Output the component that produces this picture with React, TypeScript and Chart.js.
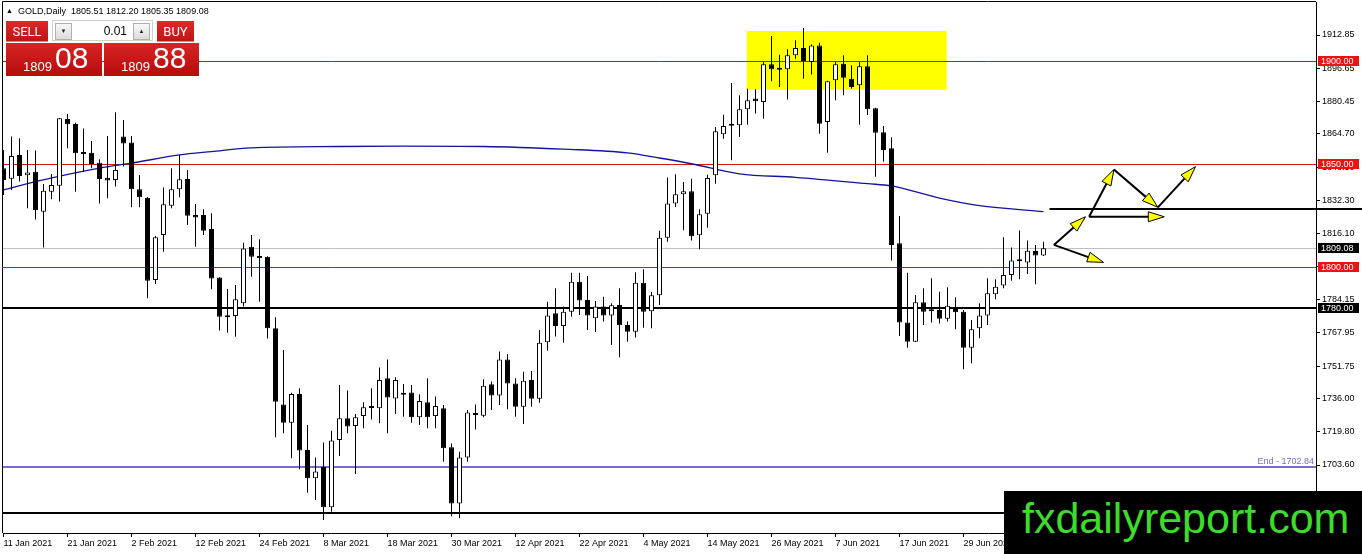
import { useEffect, useRef } from "react"
import { Chart, registerables } from "chart.js"

Chart.register(...registerables)

// daily candles, one per trading day from 11 Jan 2021
const opens = [
  1848.0, 1842.9, 1854.5, 1844.6, 1846.3, 1826.9, 1836.6, 1839.5, 1872.0, 1869.5,
  1855.6, 1855.6, 1850.7, 1843.4, 1842.3, 1863.4, 1860.5, 1837.8, 1833.7, 1793.6,
  1815.5, 1829.8, 1837.8, 1842.8, 1825.3, 1825.3, 1818.4, 1794.8, 1776.1, 1776.1,
  1782.3, 1809.8, 1805.3, 1805.0, 1770.1, 1733.1, 1724.2, 1738.1, 1710.9, 1697.1,
  1702.8, 1683.0, 1715.8, 1726.3, 1722.6, 1727.4, 1731.3, 1731.2, 1745.8, 1736.0,
  1738.5, 1738.9, 1726.8, 1734.1, 1727.4, 1731.2, 1712.2, 1684.9, 1707.3, 1727.9,
  1727.6, 1742.9, 1737.4, 1755.0, 1743.3, 1732.0, 1745.0, 1735.9, 1763.3, 1777.4,
  1771.3, 1778.2, 1792.8, 1783.9, 1775.0, 1780.7, 1776.3, 1781.5, 1771.7, 1768.5,
  1792.3, 1778.4, 1786.2, 1814.2, 1830.8, 1835.3, 1836.8, 1815.4, 1825.9, 1844.6,
  1864.5, 1868.7, 1868.9, 1876.7, 1881.9, 1880.3, 1898.6, 1896.0, 1896.2, 1903.0,
  1906.5, 1899.7, 1907.8, 1870.5, 1890.8, 1898.9, 1891.6, 1888.4, 1897.6, 1877.2,
  1865.5, 1857.7, 1811.5, 1773.0, 1763.6, 1782.8, 1779.0, 1779.0, 1774.8, 1780.3,
  1778.2, 1760.7, 1770.1, 1776.3, 1786.7, 1790.9, 1796.1, 1803.1, 1802.2, 1807.7,
  1805.51,
]
const highs = [
  1856.9, 1863.4, 1862.6, 1856.9, 1856.6, 1840.4, 1845.2, 1872.5, 1874.4, 1870.2,
  1867.4, 1861.3, 1852.4, 1863.7, 1875.2, 1871.5, 1863.7, 1844.7, 1834.0, 1815.0,
  1838.7, 1848.0, 1854.5, 1847.2, 1830.6, 1828.0, 1826.1, 1795.0, 1789.3, 1791.2,
  1811.8, 1815.5, 1813.4, 1805.2, 1775.5, 1759.6, 1738.8, 1740.9, 1723.1, 1707.3,
  1714.5, 1720.3, 1742.5, 1739.8, 1728.4, 1734.1, 1740.9, 1751.1, 1755.0, 1746.3,
  1743.0, 1742.5, 1738.0, 1745.8, 1736.9, 1732.8, 1714.1, 1710.1, 1730.4, 1733.1,
  1745.3, 1744.2, 1758.8, 1757.6, 1745.8, 1749.0, 1749.4, 1769.3, 1783.1, 1789.6,
  1780.7, 1797.2, 1797.2, 1795.6, 1783.4, 1785.5, 1782.3, 1789.6, 1773.4, 1797.4,
  1798.8, 1787.8, 1817.6, 1843.5, 1845.1, 1841.3, 1842.9, 1828.0, 1844.9, 1868.1,
  1874.1, 1889.5, 1883.5, 1886.7, 1886.4, 1899.7, 1912.4, 1903.3, 1905.9, 1910.3,
  1916.3, 1908.2, 1909.1, 1890.6, 1899.7, 1903.0, 1898.1, 1899.7, 1903.0, 1877.5,
  1868.6, 1863.1, 1824.8, 1797.2, 1786.3, 1789.6, 1794.5, 1787.9, 1790.1, 1785.2,
  1779.0, 1774.2, 1782.3, 1794.5, 1794.0, 1814.4, 1809.5, 1817.7, 1812.8, 1810.7,
  1812.2,
]
const lows = [
  1835.0, 1837.4, 1841.5, 1828.5, 1823.1, 1809.5, 1832.9, 1831.8, 1857.7, 1836.6,
  1846.3, 1848.0, 1830.9, 1833.4, 1839.1, 1848.8, 1829.0, 1829.0, 1784.7, 1791.7,
  1807.4, 1828.5, 1833.9, 1820.4, 1809.8, 1815.5, 1789.1, 1769.0, 1768.0, 1766.0,
  1780.7, 1795.2, 1783.1, 1765.2, 1717.1, 1719.0, 1706.9, 1701.5, 1690.1, 1686.6,
  1676.8, 1680.9, 1708.0, 1719.0, 1699.2, 1721.5, 1725.8, 1723.9, 1719.0, 1728.4,
  1727.1, 1724.2, 1723.1, 1721.5, 1721.5, 1705.2, 1678.5, 1677.7, 1705.2, 1720.9,
  1726.8, 1730.4, 1732.8, 1730.7, 1727.1, 1723.6, 1732.0, 1733.9, 1759.2, 1766.1,
  1763.1, 1775.8, 1776.6, 1769.3, 1768.3, 1773.4, 1762.0, 1756.0, 1763.6, 1765.7,
  1770.4, 1770.1, 1781.5, 1812.3, 1829.2, 1817.8, 1812.9, 1808.6, 1819.1, 1840.5,
  1862.4, 1851.9, 1863.2, 1869.2, 1874.6, 1872.1, 1890.3, 1887.6, 1881.5, 1901.3,
  1891.6, 1893.6, 1864.8, 1855.6, 1881.1, 1883.5, 1886.7, 1869.2, 1873.9, 1843.9,
  1851.2, 1803.1, 1766.4, 1760.7, 1763.5, 1771.7, 1772.9, 1772.5, 1773.4, 1769.6,
  1750.2, 1753.1, 1765.3, 1771.7, 1784.2, 1789.6, 1793.3, 1794.0, 1796.6, 1791.5,
  1805.35,
]
const closes = [
  1842.3, 1854.0, 1844.2, 1845.9, 1827.7, 1837.1, 1839.9, 1872.3, 1869.4, 1855.3,
  1855.0, 1850.1, 1842.8, 1842.0, 1847.2, 1860.1, 1837.8, 1833.9, 1793.3, 1814.4,
  1830.5, 1837.8, 1842.6, 1824.9, 1824.1, 1817.6, 1794.4, 1775.8, 1775.5, 1784.2,
  1809.0, 1805.0, 1804.2, 1770.1, 1734.4, 1724.2, 1738.1, 1710.6, 1697.1, 1700.4,
  1683.0, 1715.5, 1726.3, 1722.3, 1726.8, 1731.7, 1731.7, 1745.0, 1736.5, 1745.0,
  1737.8, 1726.8, 1734.7, 1726.8, 1732.3, 1711.7, 1684.9, 1707.3, 1729.2, 1728.1,
  1742.2, 1737.4, 1755.0, 1743.3, 1732.0, 1744.6, 1735.9, 1763.1, 1776.4, 1771.3,
  1778.2, 1792.8, 1783.6, 1776.4, 1780.7, 1776.3, 1781.3, 1771.6, 1768.5, 1792.3,
  1778.2, 1786.2, 1814.2, 1830.9, 1835.3, 1836.8, 1814.9, 1825.6, 1843.3, 1866.0,
  1868.6, 1869.1, 1876.7, 1881.1, 1880.6, 1898.6, 1896.2, 1896.3, 1903.0, 1906.5,
  1900.2, 1907.8, 1869.7, 1890.3, 1898.6, 1892.1, 1887.6, 1897.6, 1876.7, 1865.3,
  1856.9, 1810.7, 1772.9, 1763.6, 1782.8, 1778.2, 1778.4, 1774.8, 1781.1, 1777.9,
  1760.7, 1769.6, 1776.3, 1787.2, 1790.4, 1796.1, 1803.1, 1802.7, 1807.9, 1805.6,
  1809.08,
]

const tickIndex = [0, 8, 16, 24, 32, 40, 48, 56, 64, 72, 80, 88, 96, 104, 112, 120, 128]
const tickLabels = [
  "11 Jan 2021", "21 Jan 2021", "2 Feb 2021", "12 Feb 2021", "24 Feb 2021", "8 Mar 2021",
  "18 Mar 2021", "30 Mar 2021", "12 Apr 2021", "22 Apr 2021", "4 May 2021", "14 May 2021",
  "26 May 2021", "7 Jun 2021", "17 Jun 2021", "29 Jun 2021", "9 Jul 2021",
]
const priceTicks = [
  1912.85, 1896.65, 1880.45, 1864.7, 1848.5, 1832.3, 1816.1, 1800.0, 1784.15,
  1767.95, 1751.75, 1736.0, 1719.8, 1703.6,
]

// moving average read at a few bars
const maIndex = [0, 4, 12, 16, 22, 26, 31, 42, 50, 60, 70, 78, 82, 86, 92, 99, 108, 111, 117, 122, 130]
const maValues = [
  1837.4, 1841.5, 1848.1, 1850.5, 1854.5, 1856.1, 1857.9, 1858.6, 1858.8, 1858.6, 1857.3,
  1855.5, 1853.0, 1850.2, 1845.3, 1843.6, 1840.5, 1839.4, 1833.5, 1829.8, 1826.9,
]

const redLevels = [1900, 1850, 1800]
const blackLevels = [1780, 1680]
const lastPrice = 1809.08
const askPrice = 1809.88
const endLevel = 1702.84
const targetLevel = 1828
const targetStart = 130.75

const zoneIndex = [92.9, 117.9]
const zonePrice = [1886.2, 1914.8]

const arrowFrom = [
  [131.3, 1810.7], [131.3, 1810.7], [135.7, 1824.4], [138.8, 1847.4], [135.7, 1824.4], [144.3, 1829.0],
]
const arrowTo = [
  [135.25, 1824.4], [137.5, 1802.2], [138.8, 1847.4], [144.3, 1829.0], [145.1, 1824.4], [149.0, 1848.8],
]

const FONT = "'Liberation Sans', Arial, sans-serif"
const RED_LINE = "#d01818"
const RED_BOX = "#ee1111"
const PURPLE = "#7b6cd0"

const overlayPlugin = {
  id: "overlays",
  beforeDatasetsDraw(chart: any) {
    const { ctx, chartArea: a, scales } = chart
    const x = scales.x, y = scales.y
    ctx.save()
    ctx.beginPath()
    ctx.rect(a.left, a.top, a.right - a.left, a.bottom - a.top)
    ctx.clip()

    // yellow zone
    const zx0 = x.getPixelForValue(zoneIndex[0])
    const zx1 = x.getPixelForValue(zoneIndex[1])
    const zy0 = y.getPixelForValue(zonePrice[1])
    const zy1 = y.getPixelForValue(zonePrice[0])
    ctx.fillStyle = "#ffff00"
    ctx.fillRect(zx0, zy0, zx1 - zx0, zy1 - zy0)

    const hline = (v: number, color: string, w: number) => {
      const p = y.getPixelForValue(v)
      const py = w % 2 === 1 ? Math.round(p) + 0.5 : Math.round(p)
      ctx.strokeStyle = color
      ctx.lineWidth = w
      ctx.beginPath()
      ctx.moveTo(a.left, py)
      ctx.lineTo(a.right, py)
      ctx.stroke()
    }
    hline(lastPrice, "#c0c0c0", 1)
    redLevels.forEach((v) => hline(v, RED_LINE, 1))
    hline(endLevel, PURPLE, 2)
    blackLevels.forEach((v) => hline(v, "#000", 2))
    ctx.restore()
  },
  afterDatasetsDraw(chart: any) {
    const { ctx, scales } = chart
    const x = scales.x, y = scales.y
    ctx.save()
    arrowFrom.forEach((f, i) => {
      const t = arrowTo[i]
      const x0 = x.getPixelForValue(f[0]), y0 = y.getPixelForValue(f[1])
      const x1 = x.getPixelForValue(t[0]), y1 = y.getPixelForValue(t[1])
      const ang = Math.atan2(y1 - y0, x1 - x0)
      const len = 16, half = 5
      const c = Math.cos(ang), s = Math.sin(ang)
      const bx = x1 - len * c, by = y1 - len * s
      ctx.strokeStyle = "#000"
      ctx.lineWidth = 2
      ctx.beginPath()
      ctx.moveTo(x0, y0)
      ctx.lineTo(bx, by)
      ctx.stroke()
      ctx.beginPath()
      ctx.moveTo(x1, y1)
      ctx.lineTo(bx + half * s, by - half * c)
      ctx.lineTo(bx - half * s, by + half * c)
      ctx.closePath()
      ctx.fillStyle = "#ffff00"
      ctx.fill()
      ctx.lineWidth = 1
      ctx.stroke()
    })
    ctx.restore()
  },
  afterDraw(chart: any) {
    const { ctx, chartArea: a, scales } = chart
    const x = scales.x, y = scales.y
    ctx.save()
    // frame top / left
    ctx.strokeStyle = "#000"
    ctx.lineWidth = 1
    ctx.beginPath()
    ctx.moveTo(a.left - 0.5, a.bottom)
    ctx.lineTo(a.left - 0.5, a.top - 0.5)
    ctx.lineTo(a.right, a.top - 0.5)
    ctx.stroke()

    // partial target line running past the axis
    const ty = Math.round(y.getPixelForValue(targetLevel))
    ctx.lineWidth = 2
    ctx.beginPath()
    ctx.moveTo(x.getPixelForValue(targetStart), ty)
    ctx.lineTo(chart.width, ty)
    ctx.stroke()

    // "End" label of the purple line
    ctx.font = `9px ${FONT}`
    ctx.fillStyle = PURPLE
    ctx.textAlign = "right"
    ctx.textBaseline = "alphabetic"
    ctx.fillText(`End - ${endLevel.toFixed(2)}`, a.right - 2, y.getPixelForValue(endLevel) - 3)

    // price boxes on the axis
    const box = (v: number, bg: string) => {
      const py = Math.round(y.getPixelForValue(v))
      ctx.fillStyle = bg
      ctx.fillRect(a.right + 2, py - 5, 41, 10)
      ctx.fillStyle = "#fff"
      ctx.textAlign = "left"
      ctx.textBaseline = "middle"
      ctx.fillText(v.toFixed(2), a.right + 5, py + 0.5)
    }
    redLevels.forEach((v) => box(v, RED_BOX))
    box(lastPrice, "#000")
    box(blackLevels[0], "#000")
    ctx.restore()
  },
}

const splitPrice = (v: number) => {
  const [a, b] = v.toFixed(2).split(".")
  return [a, b]
}

function PriceBox({ left, value }: { left: number; value: number }) {
  const [big, small] = splitPrice(value)
  return (
    <div
      style={{
        position: "absolute", left, top: 43, width: left === 6 ? 96 : 95, height: 33,
        background: "linear-gradient(#d82424, #b50c0c)", color: "#fff", fontFamily: FONT,
      }}
    >
      <span style={{ position: "absolute", left: 17, top: 17, fontSize: 13, lineHeight: "13px" }}>{big}</span>
      <span style={{ position: "absolute", left: 49, top: 0, fontSize: 30, lineHeight: "30px" }}>{small}</span>
    </div>
  )
}

function TradePanel() {
  const btn: React.CSSProperties = {
    position: "absolute", top: 2, width: 17, height: 17, boxSizing: "border-box",
    border: "1px solid #b0b0b0", background: "linear-gradient(#f8f8f8, #dcdcdc)",
    fontSize: 6, lineHeight: "15px", textAlign: "center", color: "#222",
  }
  const head: React.CSSProperties = {
    position: "absolute", top: 21, height: 21, background: "linear-gradient(#dc2a2a, #c01414)",
    color: "#fff", fontFamily: "'Liberation Sans Narrow', Roboto, sans-serif", fontSize: 13,
    lineHeight: "21px", textAlign: "center", borderBottom: "1px solid #f08080", boxSizing: "border-box",
  }
  return (
    <>
      <div style={{ ...head, left: 6, width: 42 }}>SELL</div>
      <div
        style={{
          position: "absolute", left: 52, top: 20, width: 101, height: 21, boxSizing: "border-box",
          background: "#fff", border: "1px solid #d0d0d0",
        }}
      >
        <div style={{ ...btn, left: 2 }}>▼</div>
        <div
          style={{
            position: "absolute", right: 25, top: 0, fontFamily: FONT, fontSize: 12,
            lineHeight: "20px", color: "#000",
          }}
        >
          0.01
        </div>
        <div style={{ ...btn, left: 80 }}>▲</div>
      </div>
      <div style={{ ...head, left: 157, width: 37 }}>BUY</div>
      <PriceBox left={6} value={lastPrice} />
      <PriceBox left={104} value={askPrice} />
    </>
  )
}

export default function App() {
  const canvasRef = useRef<HTMLCanvasElement>(null)
  const chartRef = useRef<Chart | null>(null)

  useEffect(() => {
    if (!canvasRef.current) return
    if (chartRef.current) chartRef.current.destroy()

    const bodyColors = closes.map((c, i) => (c >= opens[i] ? "#ffffff" : "#000000"))

    chartRef.current = new Chart(canvasRef.current, {
      type: "bar",
      data: {
        datasets: [
          {
            type: "bar",
            label: "body",
            data: opens.map((o, i) => ({ x: i, y: [o, closes[i]] })) as any,
            backgroundColor: bodyColors,
            borderColor: "#000",
            borderWidth: 1,
            borderSkipped: false,
            barThickness: 5,
            minBarLength: 2,
            inflateAmount: 0,
            order: 1,
          },
          {
            type: "bar",
            label: "wick",
            data: lows.map((l, i) => ({ x: i, y: [l, highs[i]] })) as any,
            backgroundColor: "#000",
            borderWidth: 0,
            barThickness: 1,
            inflateAmount: 0,
            order: 2,
          },
          {
            type: "line",
            label: "MA",
            data: maIndex.map((x, i) => ({ x, y: maValues[i] })) as any,
            borderColor: "#14149c",
            borderWidth: 1.3,
            pointRadius: 0,
            cubicInterpolationMode: "monotone",
            order: 3,
          },
        ],
      },
      options: {
        responsive: false,
        animation: false,
        devicePixelRatio: 1,
        layout: { autoPadding: false, padding: { top: 2, left: 3, right: 0, bottom: 0 } },
        datasets: { bar: { grouped: false } },
        plugins: { legend: { display: false }, tooltip: { enabled: false } },
        scales: {
          x: {
            type: "linear",
            min: -0.0625,
            max: 164.0625,
            offset: false,
            afterBuildTicks: (s: any) => {
              s.ticks = tickIndex.map((v) => ({ value: v }))
            },
            afterFit: (s: any) => {
              s.height = 21
            },
            ticks: {
              autoSkip: false,
              maxRotation: 0,
              minRotation: 0,
              align: "start",
              padding: 1,
              color: "#000",
              font: { family: FONT, size: 9 },
              callback: (_v: any, i: number) => tickLabels[i] ?? "",
            },
            grid: { drawOnChartArea: false, drawTicks: true, tickLength: 4, color: "#000", offset: false },
            border: { color: "#000", width: 1 },
          },
          y: {
            type: "linear",
            position: "right",
            min: 1670.51,
            max: 1928.91,
            afterBuildTicks: (s: any) => {
              s.ticks = priceTicks.map((v) => ({ value: v }))
            },
            afterFit: (s: any) => {
              s.width = 46
              s.paddingTop = 0
              s.paddingBottom = 0
            },
            ticks: {
              padding: 2,
              color: "#000",
              font: { family: FONT, size: 9, lineHeight: 0.3 },
              callback: (v: any) => Number(v).toFixed(2),
            },
            grid: { drawOnChartArea: false, drawTicks: true, tickLength: 4, color: "#000" },
            border: { color: "#000", width: 1 },
          },
        },
      } as any,
      plugins: [overlayPlugin],
    })

    return () => {
      if (chartRef.current) {
        chartRef.current.destroy()
        chartRef.current = null
      }
    }
  }, [])

  const header = [opens, highs, lows, closes].map((arr) => arr[arr.length - 1].toFixed(2)).join(" ")

  return (
    <div
      style={{
        position: "fixed", left: 0, top: 0, width: 1362, height: 554, background: "#fff",
        overflow: "hidden",
      }}
    >
      <canvas ref={canvasRef} width={1362} height={554} style={{ display: "block" }} />
      <div style={{ position: "absolute", left: 6, top: 6, fontSize: 7, lineHeight: "11px", color: "#000" }}>▲</div>
      <div
        style={{
          position: "absolute", left: 18, top: 6, fontFamily: FONT, fontSize: 9, lineHeight: "11px",
          color: "#000", whiteSpace: "pre",
        }}
      >
        {"GOLD,Daily  " + header}
      </div>
      <TradePanel />
      <div
        style={{
          position: "absolute", left: 1004, top: 491, width: 358, height: 63, background: "#000",
        }}
      >
        <div
          style={{
            position: "absolute", left: 18, top: 6, fontFamily: FONT, fontSize: 43, lineHeight: "43px",
            color: "#3ddc2c", whiteSpace: "nowrap",
          }}
        >
          fxdailyreport.com
        </div>
      </div>
    </div>
  )
}
